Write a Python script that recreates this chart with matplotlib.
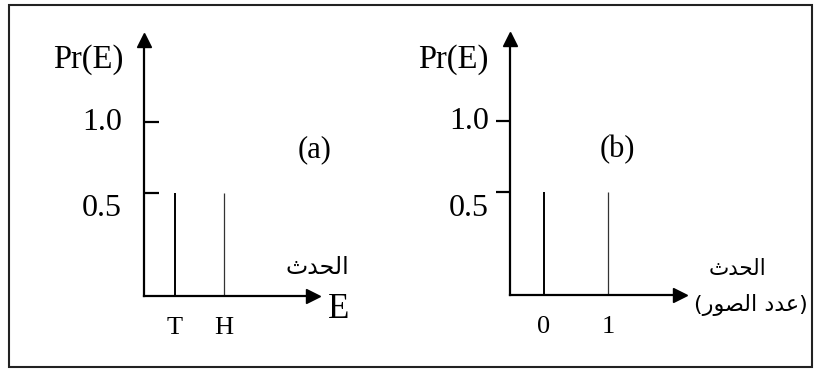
import numpy as np
import matplotlib
matplotlib.use("Agg")
import matplotlib.pyplot as plt
from matplotlib.patches import Rectangle
from matplotlib.transforms import ScaledTranslation

# coin toss: outcome T/H, and number of heads 0/1
faces = ["T", "H"]
face_pos = [1, 2]
pr_faces = [0.5, 0.5]

heads = ["0", "1"]
head_pos = [0, 1]
pr_heads = [0.5, 0.5]

yticks = [0.5, 1.0]
ytick_labels = ["0.5", "1.0"]

# Arabic labels written in shaped, left-to-right visual order
event_txt = "\uFE99\uFEAA\uFEA4\uFEDF\uFE8D"                     # الحدث
heads_txt = "(\uFEAD\uFEEE\uFEBC\uFEDF\uFE8D \uFEA9\uFEAA\uFECB)"  # (عدد الصور)

W, H = 814, 375
serif = "Liberation Serif"
arab = ["DejaVu Sans"]

fig = plt.figure(figsize=(W / 100, H / 100), dpi=100)


def fx(x):
    return x / W


def fy(y):
    return 1 - y / H


# hand-drawn vertical axis: 0.5 and 1.0 ticks are not evenly spaced
y_data = [0, 0.5, 1.0, 1.5]
y_px = [0, 103, 174, 256]


def fwd(v):
    return np.interp(v, y_data, y_px)


def inv(v):
    return np.interp(v, y_px, y_data)


def make_axes(x0, y0, x1, y1, xlim, tickdir, ticklen, pad):
    ax = fig.add_axes([fx(x0), fy(y0), fx(x1) - fx(x0), fy(y1) - fy(y0)])
    ax.set_yscale("function", functions=(fwd, inv))
    ax.set_ylim(0, 1.5)
    ax.set_xlim(*xlim)
    for s in ["top", "right"]:
        ax.spines[s].set_visible(False)
    for s in ["left", "bottom"]:
        ax.spines[s].set_linewidth(1.6)
    ax.plot(1, 0, ">k", ms=10, transform=ax.transAxes, clip_on=False)
    ax.plot(0, 1, "^k", ms=10, transform=ax.transAxes, clip_on=False)
    ax.set_yticks(yticks)
    ax.set_yticklabels(ytick_labels, fontfamily=serif, fontsize=23)
    ax.tick_params(axis="y", direction=tickdir, length=ticklen, width=1.6, pad=pad)
    ax.tick_params(axis="x", length=0, pad=15)
    ax.patch.set_alpha(0)
    # nudge the 0.5 label down a little
    lab = ax.get_yticklabels()
    lab[0].set_transform(lab[0].get_transform() + ScaledTranslation(0, -9 / 72, fig.dpi_scale_trans))
    lab[1].set_transform(lab[1].get_transform() + ScaledTranslation(0, 2 / 72, fig.dpi_scale_trans))
    return ax


# panel (a)
ax1 = make_axes(144, 296, 313, 40, (1 - 31 / 49, 1 + 138 / 49), "in", 11, 16)
ax1.vlines(face_pos[0], 0, pr_faces[0], color="black", lw=1.4)
ax1.vlines(face_pos[1], 0, pr_faces[1], color="#333333", lw=0.9)
ax1.set_xticks(face_pos)
ax1.set_xticklabels(faces, fontfamily=serif, fontsize=19)

# panel (b)
ax2 = make_axes(510, 295, 680, 39, (-34 / 64, 1 + 72 / 64), "out", 10, 5)
ax2.vlines(head_pos[0], 0, pr_heads[0], color="black", lw=1.4)
ax2.vlines(head_pos[1], 0, pr_heads[1], color="#333333", lw=0.9)
ax2.set_xticks(head_pos)
ax2.set_xticklabels(heads, fontfamily=serif, fontsize=19)

# text around the axes
fig.text(fx(88), fy(60), "Pr(E)", fontfamily=serif, fontsize=23.5, ha="center", va="center")
fig.text(fx(453), fy(60), "Pr(E)", fontfamily=serif, fontsize=23.5, ha="center", va="center")
fig.text(fx(315), fy(150), "(a)", fontfamily=serif, fontsize=22, ha="center", va="center")
fig.text(fx(617), fy(150), "(b)", fontfamily=serif, fontsize=22, ha="center", va="center")
fig.text(fx(339), fy(309), "E", fontfamily=serif, fontsize=25, ha="center", va="center")
fig.text(fx(317), fy(267), event_txt, fontfamily=arab, fontsize=17, ha="center", va="center")
fig.text(fx(737), fy(269), event_txt, fontfamily=arab, fontsize=15.5, ha="center", va="center")
fig.text(fx(751), fy(305), heads_txt, fontfamily=arab, fontsize=16, ha="center", va="center")

# outer frame
fig.patches.append(Rectangle((fx(9), fy(367)), fx(803), 1 - fy(362), transform=fig.transFigure,
                             fill=False, edgecolor="#222222", lw=1.5))

fig.savefig("out.png", dpi=100)
